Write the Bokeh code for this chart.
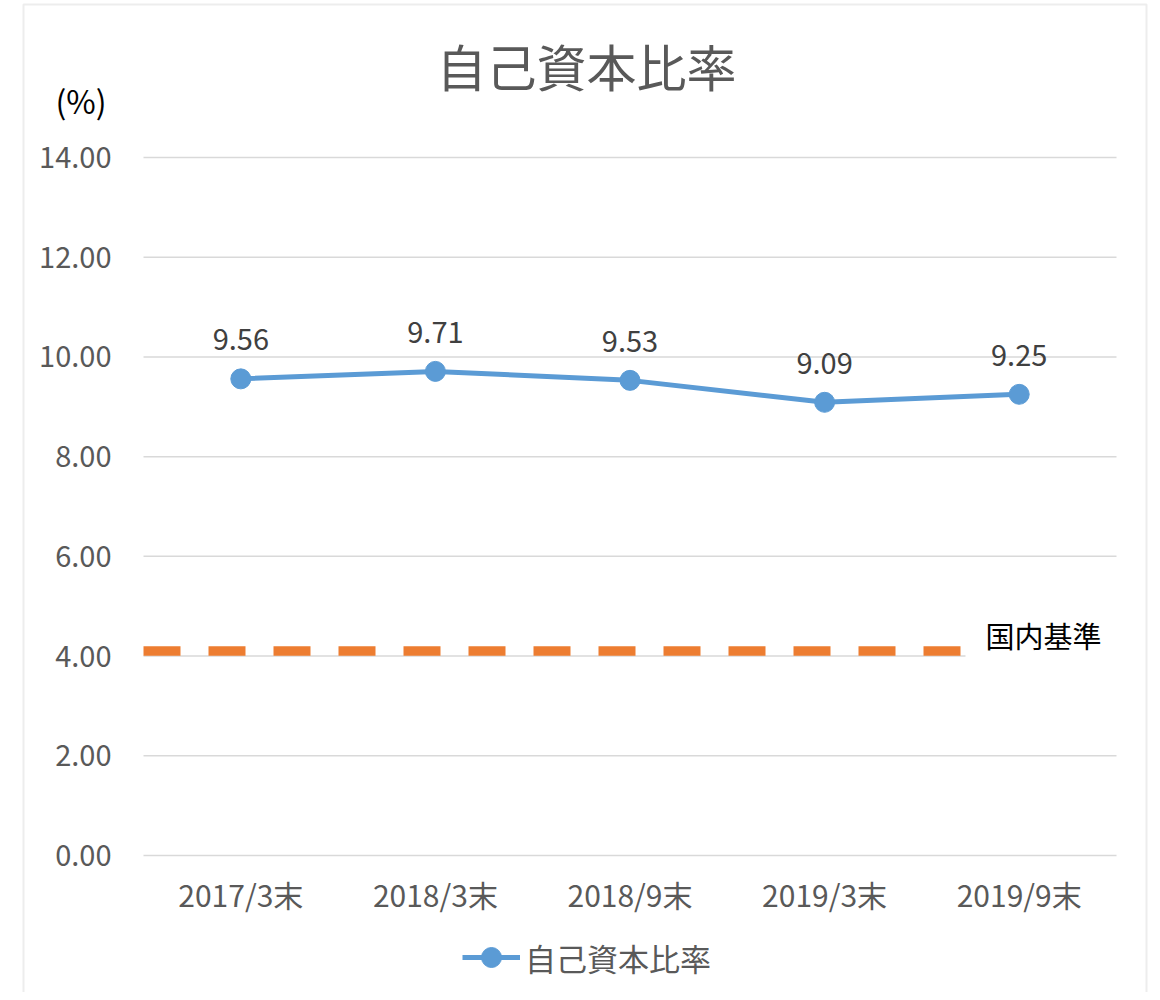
from bokeh.plotting import figure
from bokeh.models import (ColumnDataSource, Range1d, FixedTicker,
                          NumeralTickFormatter, LabelSet, Label, Legend, LegendItem, BoxAnnotation)
from bokeh.core.properties import value
from bokeh.embed import file_html
from bokeh.resources import INLINE

# ---- data ----
categories = ["2017/3末", "2018/3末", "2018/9末", "2019/3末", "2019/9末"]
ratio = [9.56, 9.71, 9.53, 9.09, 9.25]
domestic_level = 4.1
domestic_span = [-0.5, 3.7]
series_name = "自己資本比率"
title_text = "自己資本比率"
unit_text = "(%)"
domestic_text = "国内基準"
y_ticks = [0, 2, 4, 6, 8, 10, 12, 14]

FONT = "Noto Sans CJK JP"
BLUE = "#5B9BD5"
ORANGE = "#ED7D31"
GRID = "#d9d9d9"
TXT = "#595959"

W, H = 1152, 992
# pixel geometry of the plotting area (inside canvas)
PL, PR, PT, PB = 143, 1116, 157, 855
n = len(categories)
xu = (PR - PL) / n            # px per category
yu = (PB - PT) / 14.0         # px per unit
x0 = -0.5 - PL / xu
x1 = -0.5 + (W - PL) / xu
y1 = PB / yu
y0 = -(H - PB) / yu

def xd(px):
    return -0.5 + (px - PL) / xu

def yd(py):
    return (PB - py) / yu

xs = list(range(n))
src = ColumnDataSource(dict(x=xs, y=ratio, label=[f"{v:.2f}" for v in ratio]))

p = figure(width=W, height=H, output_backend="svg", toolbar_location=None,
           title_location=None, min_border=0,
           x_range=Range1d(x0, x1), y_range=Range1d(y0, y1))
p.outline_line_color = None
p.background_fill_color = "white"
p.border_fill_color = "white"

# axes (placed at fixed data locations so the frame spans the whole canvas)
p.xaxis.fixed_location = 0
p.xaxis.ticker = FixedTicker(ticks=xs)
p.xaxis.major_label_overrides = {i: c for i, c in enumerate(categories)}
p.xaxis.major_label_text_font = FONT
p.xaxis.major_label_text_font_size = "30px"
p.xaxis.major_label_text_color = TXT
p.xaxis.major_label_standoff = 10
p.xaxis.major_tick_line_color = None
p.xaxis.minor_tick_line_color = None
p.xaxis.axis_line_color = None

p.yaxis.fixed_location = -0.5
p.yaxis.ticker = FixedTicker(ticks=y_ticks)
p.yaxis.formatter = NumeralTickFormatter(format="0.00")
p.yaxis.major_label_text_font = FONT
p.yaxis.major_label_text_font_size = "29px"
p.yaxis.major_label_text_color = TXT
p.yaxis.major_label_standoff = 26
p.yaxis.major_tick_line_color = None
p.yaxis.minor_tick_line_color = None
p.yaxis.axis_line_color = None

# horizontal gridlines limited to the plot area
p.xgrid.grid_line_color = None
p.ygrid.grid_line_color = None
p.segment(x0=[-0.5] * len(y_ticks), x1=[n - 0.5] * len(y_ticks), y0=y_ticks, y1=y_ticks,
          line_color=GRID, line_width=1.5, level="underlay")

# domestic standard dashed line
p.line(domestic_span, [domestic_level, domestic_level], line_color=ORANGE,
       line_width=9.5, line_dash="37 28", line_cap="butt")

# series
lr = p.line("x", "y", source=src, line_color=BLUE, line_width=5, line_join="round")
sr = p.scatter("x", "y", source=src, size=20, fill_color=BLUE, line_color=BLUE)

p.add_layout(LabelSet(x="x", y="y", text="label", source=src, y_offset=39,
                      text_align="center", text_baseline="middle",
                      text_font=value(FONT), text_font_size="29px", text_color="#404040"))

p.add_layout(Label(x=xd(965), y=yd(634), text=domestic_text, text_align="left", text_baseline="middle",
                   text_font=FONT, text_font_size="29px", text_color="black",
                   background_fill_color="white", padding=20))

# title and unit
p.add_layout(Label(x=xd(586), y=yd(64), text=title_text, text_align="center", text_baseline="middle",
                   text_font=FONT, text_font_size="50px", text_color=TXT))
p.add_layout(Label(x=xd(55), y=yd(99), text=unit_text, text_align="left", text_baseline="middle",
                   text_font=FONT, text_font_size="32px", text_color="black"))

# legend
legend = Legend(items=[LegendItem(label=series_name, renderers=[lr, sr])],
                location=(462, H - 982), orientation="horizontal",
                glyph_width=58, glyph_height=50, label_standoff=5, spacing=0,
                padding=0, margin=0, border_line_color=None, background_fill_alpha=0,
                label_text_font=FONT, label_text_font_size="31px", label_text_color=TXT)
p.add_layout(legend)

# outer chart border
p.add_layout(BoxAnnotation(left=xd(23), right=xd(1146), top=yd(4), bottom=yd(1100),
                           fill_alpha=0, line_color="#c4c4c4", line_width=2))

open("out.html", "w").write(file_html(p, INLINE))
